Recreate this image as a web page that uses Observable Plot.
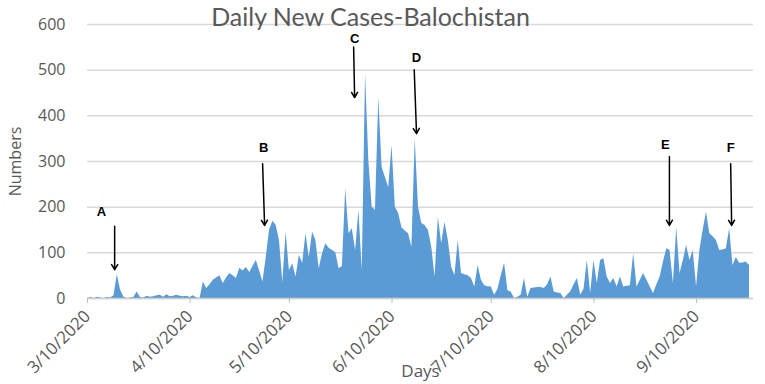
<!DOCTYPE html>
<html>
<head>
<meta charset="utf-8">
<script src="https://cdn.jsdelivr.net/npm/d3@7"></script>
<script src="https://cdn.jsdelivr.net/npm/@observablehq/plot@0.6"></script>
<style>
  body { margin: 0; background: white; }
</style>
</head>
<body>
<div id="chart"></div>
<script>
// ---- Data ----
const startDate = "2020-03-10";
// daily new cases, one per day from 3/10/2020
const dailyCases = [
  0,2,0,3,1,0,2,1,6,52,
  18,3,0,1,2,14,2,1,5,3,
  4,6,7,3,8,4,5,7,5,4,
  5,2,6,1,0,36,22,30,40,45,
  50,33,45,55,50,44,66,60,68,57,
  70,83,60,36,90,150,169,160,127,35,
  145,61,76,47,94,77,142,90,145,127,
  65,98,120,110,105,101,65,70,240,142,
  153,105,193,61,492,300,200,193,440,287,
  265,243,335,200,186,155,148,142,112,350,
  200,164,160,149,112,47,178,120,167,127,
  69,50,127,55,52,50,44,25,72,40,
  28,26,25,7,20,50,77,17,14,0,
  3,7,44,3,22,23,24,24,22,30,
  47,14,12,11,0,7,15,30,44,7,
  20,83,11,83,33,83,87,47,33,44,
  25,47,25,27,28,98,25,40,55,40,
  25,11,30,47,80,109,105,33,155,55,
  83,116,83,105,25,105,150,189,142,135,
  127,105,106,109,153,72,90,77,78,80,
  72
];
const xTickLabels = ["3/10/2020","4/10/2020","5/10/2020","6/10/2020","7/10/2020","8/10/2020","9/10/2020"];
const yTicks = [0,100,200,300,400,500,600];
const titleText = "Daily New Cases-Balochistan";
const yLabel = "Numbers";
const xLabel = "Days";

// annotations (day offsets from start date, values in cases)
const annoLabels   = ["A","B","C","D","E","F"];
const annoLetterDay = [4.2, 53.2, 80.7, 99.4, 174.6, 194.3];
const annoLetterVal = [190, 330, 568, 527, 337, 330];
const annoArrowDay1 = [8.2, 52.9, 80.4, 98.7, 175.8, 194.3];
const annoArrowDay2 = [8.2, 53.5, 80.7, 99.4, 175.8, 194.6];
const annoArrowVal1 = [158, 295, 551, 501, 311, 295];
const annoArrowVal2 = [63, 160, 440, 361, 160, 160];
const xEndDay = 201.2;

// ---- Build ----
const t0 = Date.parse(startDate + "T00:00:00Z");
const dayToDate = d => new Date(t0 + d * 864e5);
const series = dailyCases.map((v, i) => ({date: dayToDate(i), value: v}));
const tickDates = xTickLabels.map(s => {
  const [m, d, y] = s.split("/").map(Number);
  return new Date(Date.UTC(y, m - 1, d));
});
const fmt = d => `${d.getUTCMonth() + 1}/${d.getUTCDate()}/${d.getUTCFullYear()}`;
const annos = annoLabels.map((label, i) => ({
  label,
  lx: dayToDate(annoLetterDay[i]), ly: annoLetterVal[i],
  x1: dayToDate(annoArrowDay1[i]), y1: annoArrowVal1[i],
  x2: dayToDate(annoArrowDay2[i]), y2: annoArrowVal2[i]
}));

const chart = Plot.plot({
  width: 765,
  height: 384,
  marginLeft: 87,
  marginRight: 12,
  marginTop: 24,
  marginBottom: 86,
  style: {fontFamily: "'Open Sans', sans-serif", color: "#595959", background: "white"},
  x: {type: "utc", domain: [dayToDate(0), dayToDate(xEndDay)]},
  y: {domain: [0, 600]},
  marks: [
    Plot.gridY(yTicks, {stroke: "#d9d9d9", strokeOpacity: 1, strokeWidth: 1.5}),
    Plot.areaY(series, {x: "date", y: "value", fill: "#5b9bd5"}),
    Plot.ruleY([0], {stroke: "#d0d0d0", strokeWidth: 1.5}),
    Plot.axisY(yTicks, {tickSize: 0, tickPadding: 22, fontSize: 16, label: null}),
    Plot.axisX(tickDates, {tickSize: 5, tickPadding: 10, tickRotate: -45, fontSize: 17, tickFormat: fmt, label: null, stroke: "#bfbfbf"}),
    Plot.text([yLabel], {frameAnchor: "left", textAnchor: "middle", rotate: -90, dx: -72, fontSize: 16, fill: "#595959"}),
    Plot.text([xLabel], {frameAnchor: "bottom", dx: 0, dy: 78, fontSize: 17, fill: "#595959"}),
    Plot.text([titleText], {frameAnchor: "top", lineAnchor: "top", dx: -50, dy: -16.5, fontSize: 25, fill: "#595959", fontFamily: "Lato, sans-serif"}),
    Plot.arrow(annos, {x1: "x1", y1: "y1", x2: "x2", y2: "y2", stroke: "black", strokeWidth: 1.5, headLength: 6}),
    Plot.text(annos, {x: "lx", y: "ly", text: "label", fontWeight: "bold", fontSize: 13, fill: "black", fontFamily: "'Liberation Sans', Arial, sans-serif"})
  ]
});
document.getElementById("chart").appendChild(chart);
</script>
</body>
</html>
